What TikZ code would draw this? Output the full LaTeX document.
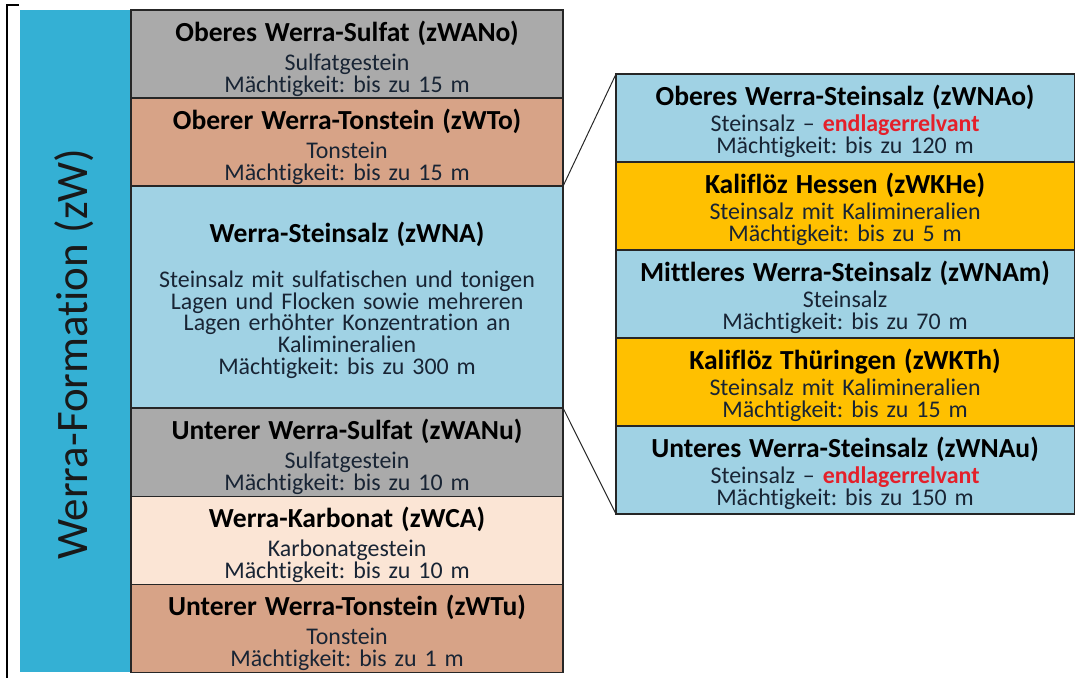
\documentclass[tikz,border=0pt]{standalone}
\usepackage{fontspec}
\setmainfont{Carlito}[Ligatures=NoCommon]
\usepackage{tikz}
\usetikzlibrary{positioning}

\definecolor{formblue}{RGB}{52,176,212}
\definecolor{sulfatgray}{RGB}{170,170,170}
\definecolor{tonbrown}{RGB}{215,163,135}
\definecolor{saltblue}{RGB}{160,210,228}
\definecolor{karbpeach}{RGB}{251,229,213}
\definecolor{kaliyellow}{RGB}{255,192,0}
\definecolor{relred}{RGB}{228,32,42}
\definecolor{bodytext}{RGB}{24,36,52}

\newcommand{\bodyfont}{\fontsize{17}{15.5}\selectfont\lineskiplimit=-20pt\frenchspacing\relax}
\newcommand{\hd}[1]{{\fontsize{19.6}{19.6}\selectfont\bfseries\color{black}#1}}
\newcommand{\rel}{{\bfseries\color{relred}endlagerrelvant}}

\tikzset{
    layer/.style={draw=black!85, line width=0.9pt, minimum width=10.8cm, minimum height=2.2cm,
        inner sep=0pt, outer sep=0pt, text width=10.6cm, align=center, font=\bodyfont, text=bodytext,
        text height=22.5pt, text depth=40pt},
    rlayer/.style={layer, minimum width=11.45cm, text width=11.2cm, text height=22.5pt},
}

\begin{document}
\begin{tikzpicture}[x=0.025cm, y=-0.025cm]

    \useasboundingbox (0,0) rectangle (1082,678);

    \draw[line width=1.4pt] (19,5) -- (7,5) -- (7,678);

    \node[fill=formblue, minimum width=2.775cm, minimum height=16.55cm, inner sep=0pt, outer sep=0pt, anchor=north west] (zW) at (20,10) {};
    \node[rotate=90, font=\fontsize{32}{32}\selectfont, text=black!90] (zWlabel) at (74,354) {Werra-Formation (zW)};

    \node[layer, fill=sulfatgray, anchor=north west] (zWANo) at (131,10) {\hd{Oberes Werra-Sulfat (zWANo)}\\[5pt] Sulfatgestein\\ Mächtigkeit: bis zu 15 m};
    \node[layer, fill=tonbrown, below=0pt of zWANo] (zWTo) {\hd{Oberer Werra-Tonstein (zWTo)}\\[5pt] Tonstein\\ Mächtigkeit: bis zu 15 m};
    \node[layer, fill=saltblue, minimum height=5.55cm, text height=39pt, text depth=116pt, below=0pt of zWTo] (zWNA) {\hd{Werra-Steinsalz (zWNA)}\\[16pt] Steinsalz mit sulfatischen und tonigen\\ Lagen und Flocken sowie mehreren\\ Lagen erhöhter Konzentration an\\ Kalimineralien\\ Mächtigkeit: bis zu 300 m};
    \node[layer, fill=sulfatgray, below=0pt of zWNA] (zWANu) {\hd{Unterer Werra-Sulfat (zWANu)}\\[5pt] Sulfatgestein\\ Mächtigkeit: bis zu 10 m};
    \node[layer, fill=karbpeach, below=0pt of zWANu] (zWCA) {\hd{Werra-Karbonat (zWCA)}\\[5pt] Karbonatgestein\\ Mächtigkeit: bis zu 10 m};
    \node[layer, fill=tonbrown, below=0pt of zWCA] (zWTu) {\hd{Unterer Werra-Tonstein (zWTu)}\\[5pt] Tonstein\\ Mächtigkeit: bis zu 1 m};

    \node[rlayer, fill=saltblue, anchor=north west] (zWNAo) at (616,74) {\hd{Oberes Werra-Steinsalz (zWNAo)}\\[3pt] Steinsalz -- \rel\\ Mächtigkeit: bis zu 120 m};
    \node[rlayer, fill=kaliyellow, below=0pt of zWNAo] (zWKHe) {\hd{Kaliflöz Hessen (zWKHe)}\\[3pt] Steinsalz mit Kalimineralien\\ Mächtigkeit: bis zu 5 m};
    \node[rlayer, fill=saltblue, below=0pt of zWKHe] (zWNAm) {\hd{Mittleres Werra-Steinsalz (zWNAm)}\\[3pt] Steinsalz\\ Mächtigkeit: bis zu 70 m};
    \node[rlayer, fill=kaliyellow, below=0pt of zWNAm] (zWKTh) {\hd{Kaliflöz Thüringen (zWKTh)}\\[3pt] Steinsalz mit Kalimineralien\\ Mächtigkeit: bis zu 15 m};
    \node[rlayer, fill=saltblue, below=0pt of zWKTh] (zWNAu) {\hd{Unteres Werra-Steinsalz (zWNAu)}\\[3pt] Steinsalz -- \rel\\ Mächtigkeit: bis zu 150 m};

    \draw[line width=0.7pt, black!85] (zWNA.north east) -- (zWNAo.north west);
    \draw[line width=0.7pt, black!85] (zWNA.south east) -- (zWNAu.south west);

\end{tikzpicture}
\end{document}
